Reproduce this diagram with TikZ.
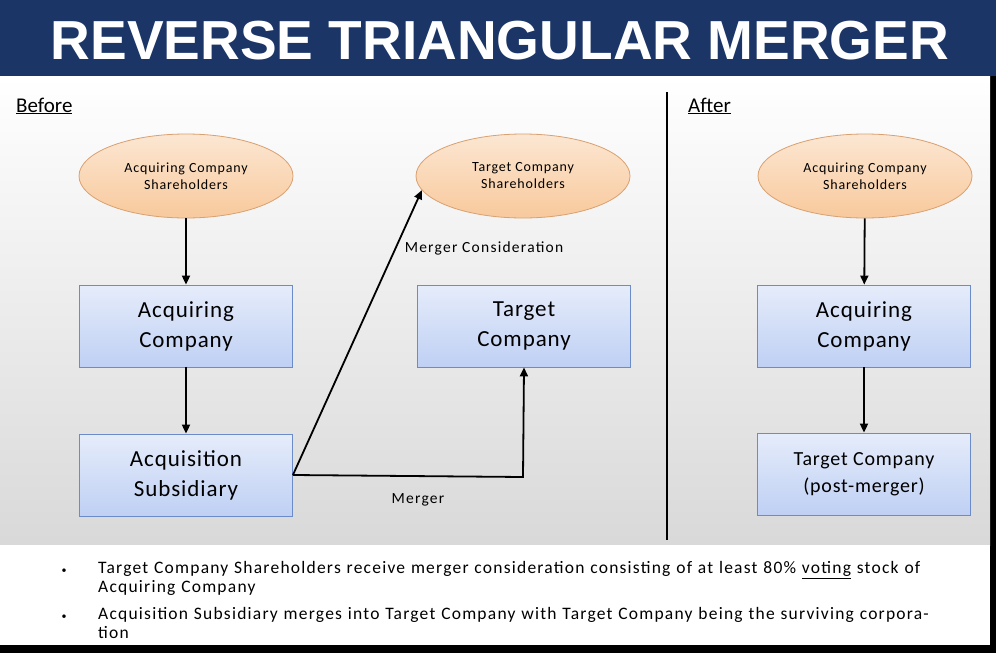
\documentclass[tikz,border=0pt]{standalone}
\usepackage{fontspec}
\setmainfont{Carlito}
\newfontfamily\titlefont{Liberation Sans}
\usetikzlibrary{shapes.geometric,arrows.meta}
\definecolor{navy}{HTML}{1B3566}
\definecolor{ellfill}{HTML}{F8C99C}
\definecolor{ellline}{HTML}{D9A070}
\definecolor{boxfill}{HTML}{BFD0F4}
\definecolor{boxline}{HTML}{6B8CC9}
\tikzset{
  shell/.style={ellipse,draw=ellline,line width=0.8pt,top color=ellfill!45,bottom color=ellfill,minimum width=214pt,minimum height=84pt,align=center,font=\fontsize{14}{17}\selectfont\addfontfeature{LetterSpace=6},inner sep=0pt},
  cobox/.style={rectangle,draw=boxline,line width=0.8pt,top color=boxfill!40,bottom color=boxfill,minimum width=213pt,minimum height=82pt,align=center,font=\fontsize{23}{30}\selectfont\addfontfeature{LetterSpace=4}},
  arr/.style={-{Triangle[length=9pt,width=8pt]},line width=1.8pt,black},
  lbl/.style={font=\fontsize{15.5}{18}\selectfont\addfontfeature{LetterSpace=8}},
  btxt/.style={font=\fontsize{17.5}{19}\selectfont\addfontfeature{LetterSpace=7},anchor=north west,align=left,text width=840pt,inner sep=0pt}
}
\begin{document}
\begin{tikzpicture}[x=1pt,y=-1pt]
\useasboundingbox (0,0) rectangle (996,653);
\fill[black] (0,0) rectangle (996,653);
\shade[top color=white,bottom color=gray!30] (0,76) rectangle (990,545);
\fill[white] (0,545) rectangle (990,645);
\fill[navy] (0,0) rectangle (996,76);
\node[text=white,font=\titlefont\bfseries\fontsize{55}{60}\selectfont] (title) at (500,41) {REVERSE TRIANGULAR MERGER};
\node[font=\fontsize{21}{24}\selectfont,anchor=west,inner sep=0pt] (before) at (16,106) {\underline{Before}};
\node[font=\fontsize{21}{24}\selectfont,anchor=west,inner sep=0pt] (after) at (688,106) {\underline{After}};
\draw[line width=2pt] (667,92) -- (667,540);
\node[shell] (acqsh) at (186,176) {Acquiring Company\\Shareholders};
\node[shell] (tgtsh) at (523,176) {Target Company\\Shareholders};
\node[shell] (acqsh2) at (865,176) {Acquiring Company\\Shareholders};
\node[cobox] (acq) at (186,326) {Acquiring\\Company};
\node[cobox] (tgt) at (524,326) {Target\\Company};
\node[cobox] (sub) at (186,475) {Acquisition\\Subsidiary};
\node[cobox] (acq2) at (864,326) {Acquiring\\Company};
\node[cobox,font=\fontsize{20}{27}\selectfont\addfontfeature{LetterSpace=4}] (tgt2) at (864,474) {Target Company\\(post-merger)};
\draw[arr] (acqsh) -- (acq);
\draw[arr] (acq) -- (sub);
\draw[arr] (acqsh2) -- (acq2);
\draw[arr] (acq2) -- (tgt2);
\draw[arr] (sub.east) -- (tgtsh.188);
\draw[arr] (sub.east) -- (523,477) -- (tgt.south);
\node[lbl] (mc) at (484,248) {Merger Consideration};
\node[lbl] (mg) at (418,500) {Merger};
\node (b1) at (64,571) {\textbullet};
\node (b2) at (64,617) {\textbullet};
\node[btxt] (t1) at (98,561) {Target Company Shareholders receive merger consideration consisting of at least 80\% \underline{voting} stock of Acquiring Company};
\node[btxt] (t2) at (98,607) {Acquisition Subsidiary merges into Target Company with Target Company being the surviving corporation};
\end{tikzpicture}
\end{document}
